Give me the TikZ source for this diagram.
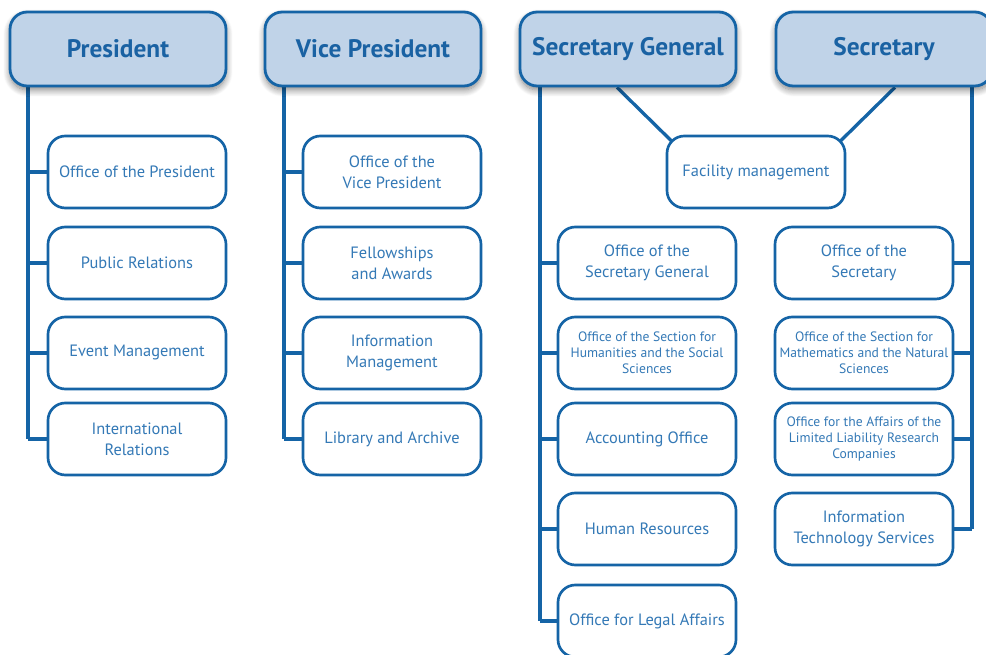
\documentclass[tikz,border=0pt]{standalone}
\usepackage{fontspec}
\setmainfont{PT Sans}
\usetikzlibrary{shadows.blur,calc}
\definecolor{lineblue}{HTML}{1564A6}
\definecolor{headfill}{HTML}{C0D3E8}
\definecolor{headtext}{HTML}{1A62A3}
\definecolor{boxtext}{HTML}{3479B6}
\pgfdeclarelayer{background}
\pgfsetlayers{background,main}
\tikzset{
  headbox/.style={draw=lineblue, line width=2.1pt, fill=headfill, rounded corners=13pt,
    minimum width=162pt, minimum height=55.5pt, inner sep=0pt,
    text=headtext, font=\fontsize{19}{22}\selectfont\bfseries,
    blur shadow={shadow xshift=0pt, shadow yshift=-3pt, shadow blur steps=10, shadow blur radius=5pt, shadow opacity=50}},
  unitbox/.style={draw=lineblue, line width=2pt, fill=white, rounded corners=13pt,
    minimum width=133.5pt, minimum height=54pt, inner sep=0pt, align=center,
    text=boxtext, font=\fontsize{12.3}{15.7}\selectfont},
  smallbox/.style={unitbox, font=\fontsize{10.2}{12}\selectfont},
  conn/.style={draw=lineblue, line width=2.5pt},
}
\begin{document}
\begin{tikzpicture}[x=0.75pt,y=-0.75pt]
\useasboundingbox (0,0) rectangle (986,655);
% headers
\node[headbox] (P)  at (118,49) {President};
\node[headbox] (VP) at (373,49) {Vice President};
\node[headbox] (SG) at (628,49) {Secretary General};
\node[headbox] (S)  at (884,49) {Secretary};
% President column
\node[unitbox] (P1) at (137,172) {Office of the President};
\node[unitbox] (P2) at (137,263) {Public Relations};
\node[unitbox] (P3) at (137,353) {Event Management};
\node[unitbox] (P4) at (137,439) {International\\Relations};
% Vice President column
\node[unitbox] (V1) at (392,172) {Office of the\\Vice President};
\node[unitbox] (V2) at (392,263) {Fellowships\\and Awards};
\node[unitbox] (V3) at (392,353) {Information\\Management};
\node[unitbox] (V4) at (392,439) {Library and Archive};
% Facility
\node[unitbox] (F) at (756,172) {Facility management};
% Secretary General column
\node[unitbox] (G1) at (647,263) {Office of the\\Secretary General};
\node[smallbox] (G2) at (647,353) {Office of the Section for\\Humanities and the Social\\Sciences};
\node[unitbox] (G3) at (647,439) {Accounting Office};
\node[unitbox] (G4) at (647,529) {Human Resources};
\node[unitbox] (G5) at (647,621) {Office for Legal Affairs};
% Secretary column
\node[unitbox] (S1) at (864,263) {Office of the\\Secretary};
\node[smallbox] (S2) at (864,353) {Office of the Section for\\Mathematics and the Natural\\Sciences};
\node[smallbox] (S3) at (864,439) {Office for the Affairs of the\\Limited Liability Research\\Companies};
\node[unitbox] (S4) at (864,529) {Information\\Technology Services};
% trunk coordinates
\coordinate (tP) at (28,439);
\coordinate (tV) at (284,439);
\coordinate (tG) at (540,621);
\coordinate (tS) at (972,529);
\coordinate (fL) at (617,0);
\coordinate (fR) at (895,0);
\coordinate (fLin) at (700,169);
\coordinate (fRin) at (812,169);
\begin{pgfonlayer}{background}
\draw[conn] (P.south -| tP) -- (tP);
\foreach \n in {P1,P2,P3,P4} \draw[conn] (\n.west) -- (\n.west -| tP);
\draw[conn] (VP.south -| tV) -- (tV);
\foreach \n in {V1,V2,V3,V4} \draw[conn] (\n.west) -- (\n.west -| tV);
\draw[conn] (SG.south -| tG) -- (tG);
\foreach \n in {G1,G2,G3,G4,G5} \draw[conn] (\n.west) -- (\n.west -| tG);
\draw[conn] (S.south -| tS) -- (tS);
\foreach \n in {S1,S2,S3,S4} \draw[conn] (\n.east) -- (\n.east -| tS);
\draw[conn] (SG.south -| fL) -- (fLin);
\draw[conn] (S.south -| fR) -- (fRin);
\end{pgfonlayer}
\end{tikzpicture}
\end{document}
